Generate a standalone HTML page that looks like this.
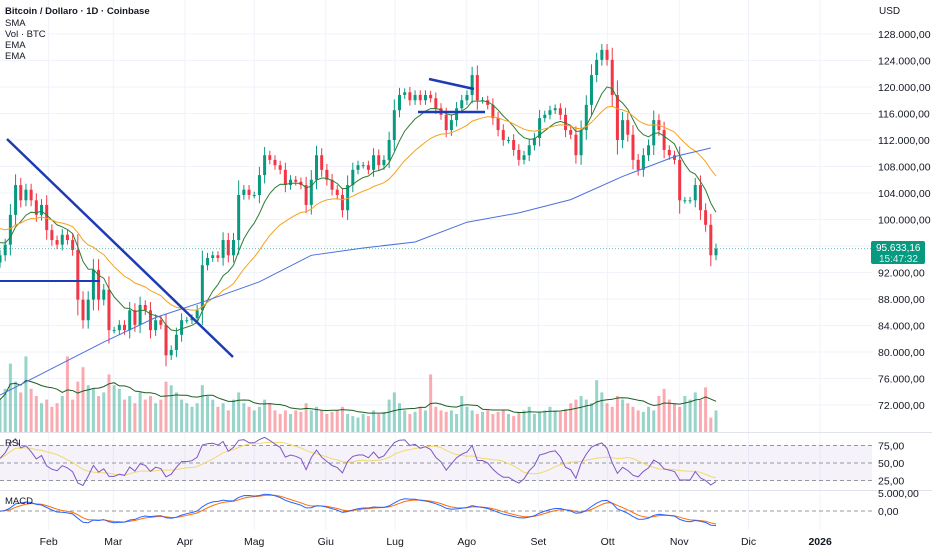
<!DOCTYPE html>
<html><head><meta charset="utf-8"><style>
html,body{margin:0;padding:0;background:#fff;}
svg{display:block;font-family:"Liberation Sans",sans-serif;}
</style></head><body>
<svg id="chart" width="932" height="550" viewBox="0 0 932 550" xmlns="http://www.w3.org/2000/svg">
<rect x="0" y="0" width="932" height="550" fill="#ffffff"/>
<g id="grid"></g>
<rect x="0" y="445" width="872" height="36" fill="#7e57c2" fill-opacity="0.08"/>
<g id="vol"></g>
<g id="candles"></g>
<g id="lines"></g>
<g id="draw">
<line x1="7" y1="139" x2="233" y2="357" stroke="#1d3bb3" stroke-width="2.5"/>
<line x1="0" y1="281" x2="100" y2="281" stroke="#1d3bb3" stroke-width="2"/>
<line x1="429" y1="79" x2="474" y2="89" stroke="#1d3bb3" stroke-width="2.5"/>
<line x1="418" y1="112" x2="485" y2="112" stroke="#1d3bb3" stroke-width="2.5"/>
</g>
<g id="ind"></g>
<line x1="0" y1="432.5" x2="932" y2="432.5" stroke="#e0e3eb"/>
<line x1="0" y1="490.5" x2="932" y2="490.5" stroke="#e0e3eb"/>
<g id="axis" font-size="10.5" fill="#131722"></g>
<g font-size="9.5" fill="#131722">
<text x="5" y="14" font-weight="bold">Bitcoin / Dollaro · 1D · Coinbase</text>
<text x="5" y="26">SMA</text>
<text x="5" y="37">Vol · BTC</text>
<text x="5" y="48">EMA</text>
<text x="5" y="59">EMA</text>
<text x="5" y="446">RSI</text>
<text x="5" y="504">MACD</text>
</g>
<text x="879" y="14" font-size="10" fill="#131722">USD</text>
<g>
<rect x="871" y="241" width="54" height="23" rx="2" fill="#089981"/>
<text x="876" y="251" font-size="10" fill="#fff">95.633,16</text>
<text x="879" y="262" font-size="10" fill="#d8f2ee">15:47:32</text>
</g>
</svg>
<script>
// ---- data (prices in thousands USD) ----
const closes = [94.6,96.2,100.7,105.2,102.9,104.5,102.9,100.7,102.2,98.4,96.9,96.2,97.7,96.9,95.4,87.9,84.8,87.9,92.4,87.9,89.4,83.3,83.3,84.1,83.3,86.3,84.1,87.1,86.3,83.3,84.8,84.1,79.5,80.3,82.6,84.8,84.8,85.1,86.3,93.1,94.2,94.6,94.2,96.9,94.6,96.9,103.7,104.5,103.7,103.7,106.7,109.7,109.0,108.2,107.5,105.2,106.0,105.7,105.2,102.2,106.0,109.7,107.5,106.0,104.5,103.7,101.4,105.2,107.5,108.2,108.2,107.5,109.7,108.2,109.0,112.0,116.5,118.8,119.2,118.0,118.8,118.0,118.8,118.3,116.8,115.8,113.5,115.0,116.8,118.0,118.8,121.8,118.0,118.0,117.3,115.3,113.5,112.0,112.0,110.5,109.0,109.7,111.2,112.3,115.3,115.8,116.5,116.8,115.8,113.5,112.8,109.7,113.5,117.3,121.8,124.1,125.6,124.1,118.8,112.0,115.0,112.8,109.0,107.5,109.7,111.2,115.0,113.5,110.5,109.7,109.0,102.9,102.9,102.9,105.2,101.4,99.2,94.6,95.6];
const firstOpen = 93.5;
const volumes = [45,60,95,70,55,105,60,50,40,45,35,40,50,105,45,70,90,65,60,50,55,80,65,60,45,50,40,55,45,50,40,45,70,65,55,45,40,35,40,65,50,45,35,40,30,45,55,40,35,30,35,45,40,30,25,30,25,30,28,40,30,35,30,25,28,30,35,25,22,20,25,22,30,25,28,45,55,40,30,25,28,35,30,80,35,30,28,30,25,50,35,30,25,28,30,25,28,30,25,22,28,30,35,25,28,30,35,30,28,32,40,45,50,45,40,72,55,40,35,50,45,40,35,30,28,35,30,50,60,45,40,35,50,45,55,45,62,20];
const smaIdx = [0,10,20,30,40,50,60,70,80,90,100,110,120,130,137];
const smaVals = [73.5,77.5,81.5,85.2,87.8,90.6,94.6,95.7,96.6,99.6,101.0,103.0,106.5,109.5,110.8];
const priceTicks = [128,124,120,116,112,108,104,100,96,92,88,84,80,76,72];
const monthLabels = ["Feb","Mar","Apr","Mag","Giu","Lug","Ago","Set","Ott","Nov","Dic","2026"];
const monthDays = [21,49,80,110,141,171,202,233,263,294,324,355]; // days since Jan 11
const rsiTicks = [75,50,25];

// ---- scales ----
const NS = "http://www.w3.org/2000/svg";
const N = closes.length;
const xI = i => i * 716 / (N - 1);
const xDay = d => -23 + (d + 10) * 2.31;
const yP = p => 34 + (128 - p) * 6.625;
const yV = v => 432 - v * 0.72;
const yR = r => 463 - (r - 50) * 0.7;
const yM = m => 511 - m * 0.0036;
function el(tag, attrs, parent){const e=document.createElementNS(NS,tag);for(const k in attrs)e.setAttribute(k,attrs[k]);parent.appendChild(e);return e;}

const grid = document.getElementById('grid');
priceTicks.forEach(p=>{
  const l = el('line',{x1:0,x2:872,y1:yP(p),y2:yP(p),stroke:'#f0f3fa'},grid);
  
  
});
monthDays.forEach(d=>{
  const l = el('line',{x1:xDay(d),x2:xDay(d),y1:0,y2:530,stroke:'#f0f3fa'},grid);
  
  
});

// volume
const vol = document.getElementById('vol');
for(let i=0;i<N;i++){
  const v = volumes[i] !== undefined ? volumes[i] : 30;
  const o = i===0?firstOpen:closes[i-1];
  const up = closes[i] >= o;
  const r = el('rect',{x:xI(i)-1.5,y:yV(v),width:3,height:432-yV(v),fill:up?'#089981':'#f23645','fill-opacity':0.42},vol);
  
  
}
// volume MA
let vpts=[];
for(let i=0;i<N;i++){let s=0,c=0;for(let j=Math.max(0,i-9);j<=i;j++){s+=(volumes[j]!==undefined?volumes[j]:30);c++;}vpts.push(xI(i)+','+(yV(s/c)).toFixed(1));}
const lines = document.getElementById('lines');
const vma = el('polyline',{points:vpts.join(' '),fill:'none',stroke:'#1b5e20','stroke-width':1},lines);



// candles
const cg = document.getElementById('candles');
for(let i=0;i<N;i++){
  const o = i===0?firstOpen:closes[i-1], c = closes[i];
  const up = c>=o;
  const w = 0.5 + Math.abs(c-o)*0.25;
  const hi = Math.max(o,c)+w, lo = Math.min(o,c)-w;
  const col = up?'#089981':'#f23645';
  const x = xI(i);
  const wk = el('line',{x1:x,x2:x,y1:yP(hi),y2:yP(lo),stroke:col,'stroke-width':1},cg);
  
  
  const top = yP(Math.max(o,c)), bot = yP(Math.min(o,c));
  const b = el('rect',{x:x-1.5,y:top,width:3,height:Math.max(1,bot-top),fill:col},cg);
  
  
}

// EMAs
function ema(arr,n,seed){const a=2/(n+1);let e=seed!==undefined?seed:arr[0];return arr.map(v=>e=e+a*(v-e));}
function poly(vals,ys,color,name,parent,sw){
  const pts=vals.map((v,i)=>xI(i)+','+ys(v).toFixed(1)).join(' ');
  const p=el('polyline',{points:pts,fill:'none',stroke:color,'stroke-width':sw||1},parent);
  
  
}
poly(ema(closes,9,97),yP,'#2e7d32','ema-short-line',lines);
poly(ema(closes,23,99),yP,'#f7a21b','ema-long-line',lines);
// SMA 200
const sp = smaIdx.map((d,k)=>xI(d)+','+yP(smaVals[k]).toFixed(1)).join(' ');
const sl = el('polyline',{points:sp,fill:'none',stroke:'#4c6fe0','stroke-width':1},lines);


// last price dotted line
const lp = el('line',{x1:0,x2:872,y1:yP(closes[N-1]),y2:yP(closes[N-1]),stroke:'#089981','stroke-dasharray':'1 2','stroke-opacity':0.6},lines);



// RSI
const ind = document.getElementById('ind');
[75,50,25].forEach(r=>{
  const l=el('line',{x1:0,x2:872,y1:yR(r),y2:yR(r),stroke:'#9598a1','stroke-dasharray':'4 3'},ind);
  
  
});
const rsi=[];let ag=0,al=0;const P=7;
for(let i=0;i<N;i++){
  const ch = i===0?closes[0]-firstOpen:closes[i]-closes[i-1];
  const g=Math.max(ch,0), l=Math.max(-ch,0);
  if(i===0){ag=0.6;al=0.6;}
  ag=(ag*(P-1)+g)/P; al=(al*(P-1)+l)/P;
  rsi.push(100-100/(1+ag/(al||1e-6)));
}
const rsiSig = rsi.map((v,i)=>{let s=0,c=0;for(let j=Math.max(0,i-9);j<=i;j++){s+=rsi[j];c++;}return s/c;});
poly(rsiSig,yR,'#f2d96b','rsi-signal-line',ind);
poly(rsi,yR,'#7e57c2','rsi-line',ind);
// MACD
const zl=el('line',{x1:0,x2:872,y1:yM(0),y2:yM(0),stroke:'#9598a1','stroke-dasharray':'4 3'},ind);


const e1=ema(closes,6,95), e2=ema(closes,13,95);
const macd=e1.map((v,i)=>(v-e2[i])*1000);
const sig=ema(macd,4,0);
poly(sig,yM,'#ff6d00','macd-signal-line',ind);
poly(macd,yM,'#2962ff','macd-line',ind);

// axes
const ax=document.getElementById('axis');
priceTicks.forEach(p=>{
  const t=el('text',{x:878,y:yP(p)+4},ax);
  t.textContent=p+'.000,00';
  
  
});
rsiTicks.forEach(r=>{
  const t=el('text',{x:878,y:yR(r)+4},ax);
  t.textContent=r+',00';
  
  
});
const m1=el('text',{x:878,y:497},ax);m1.textContent='5.000,00';


const m0=el('text',{x:878,y:yM(0)+4},ax);m0.textContent='0,00';


monthLabels.forEach((m,k)=>{
  const t=el('text',{x:xDay(monthDays[k]),y:545,'text-anchor':'middle'},ax);
  t.textContent=m;
  if(m==='2026')t.setAttribute('font-weight','bold');
  
  
});
</script>
</body></html>
